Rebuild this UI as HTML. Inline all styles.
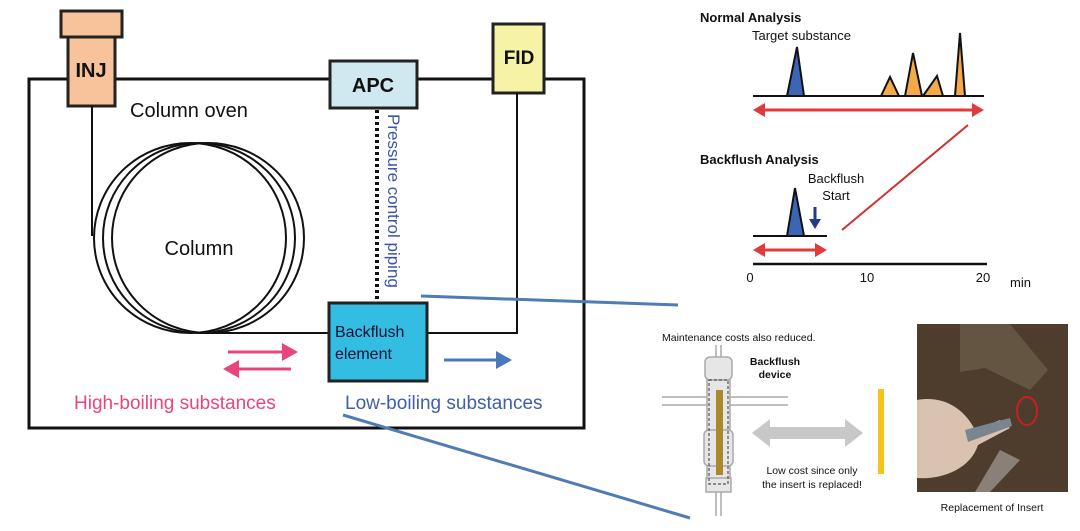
<!DOCTYPE html>
<html><head><meta charset="utf-8"><style>
html,body{margin:0;padding:0;background:#fff;}
svg{display:block;}
text{font-family:"Liberation Sans",Arial,sans-serif;}
</style></head><body>
<svg width="1080" height="531" viewBox="0 0 1080 531" xmlns="http://www.w3.org/2000/svg">
<!-- oven -->
<rect x="29" y="79" width="555" height="349" fill="none" stroke="#111" stroke-width="3"/>
<!-- INJ -->
<rect x="61" y="11" width="61" height="26" fill="#f8c29a" stroke="#222" stroke-width="3"/>
<rect x="68" y="37" width="47" height="69" fill="#f8c29a" stroke="#222" stroke-width="3"/>
<text x="91" y="77" font-size="20" font-weight="bold" text-anchor="middle" fill="#111">INJ</text>
<!-- APC -->
<rect x="330" y="61" width="87" height="47" fill="#d0e9f0" stroke="#222" stroke-width="3"/>
<text x="373" y="92" font-size="20" font-weight="bold" text-anchor="middle" fill="#111">APC</text>
<!-- FID -->
<rect x="493" y="24" width="51" height="69" fill="#f7f3a6" stroke="#222" stroke-width="3"/>
<text x="519" y="64" font-size="19" font-weight="bold" text-anchor="middle" fill="#111">FID</text>
<text x="130" y="117" font-size="20" fill="#111">Column oven</text>
<!-- column lines -->
<line x1="92" y1="106" x2="92" y2="236" stroke="#111" stroke-width="2"/>
<g fill="none" stroke="#111" stroke-width="2">
<ellipse cx="190" cy="238" rx="96" ry="95"/>
<ellipse cx="199" cy="238" rx="96" ry="95"/>
<ellipse cx="208" cy="238" rx="96" ry="95"/>
</g>
<text x="199" y="255" font-size="20" text-anchor="middle" fill="#111">Column</text>
<line x1="199" y1="333" x2="330" y2="333" stroke="#111" stroke-width="2"/>
<polyline points="427,333 517,333 517,93" fill="none" stroke="#111" stroke-width="2"/>
<line x1="377" y1="110" x2="377" y2="303" stroke="#111" stroke-width="4" stroke-dasharray="3,3"/>
<text transform="translate(388,114) rotate(90)" font-size="17" fill="#3a56a4">Pressure control piping</text>
<!-- backflush -->
<rect x="329" y="303" width="98" height="78" fill="#33bde2" stroke="#222" stroke-width="3"/>
<text x="335" y="337" font-size="16" fill="#113">Backflush</text>
<text x="335" y="359" font-size="16" fill="#113">element</text>
<!-- arrows -->
<line x1="228" y1="352" x2="285" y2="352" stroke="#e8457f" stroke-width="3"/>
<path d="M282,343 L298,352 L282,361z" fill="#e8457f"/>
<line x1="236" y1="369" x2="291" y2="369" stroke="#e8457f" stroke-width="3"/>
<path d="M239,360 L223,369 L239,378z" fill="#e8457f"/>
<line x1="444" y1="360" x2="498" y2="360" stroke="#4a78b8" stroke-width="3"/>
<path d="M496,351 L512,360 L496,369z" fill="#4a78b8"/>
<text x="74" y="409" font-size="19" fill="#e8457f">High-boiling substances</text>
<text x="345" y="409" font-size="19" fill="#3f5fa8">Low-boiling substances</text>
<!-- connectors -->
<line x1="421" y1="296" x2="678" y2="305" stroke="#4f7cb4" stroke-width="3"/>
<line x1="343" y1="415" x2="690" y2="518" stroke="#4f7cb4" stroke-width="3"/>
<!-- chromatograms -->
<text x="700" y="22" font-size="13" font-weight="bold" fill="#111">Normal Analysis</text>
<text x="752" y="40" font-size="13" fill="#111">Target substance</text>
<path d="M787,96 L797,47 L804,96z" fill="#3a66b4" stroke="#111" stroke-width="2"/>
<path d="M881,96 L890,77 L899,96z" fill="#f3aa48" stroke="#111" stroke-width="2"/>
<path d="M905,96 L913,53 L922,96z" fill="#f3aa48" stroke="#111" stroke-width="2"/>
<path d="M923,96 L937,76 L943,96z" fill="#f3aa48" stroke="#111" stroke-width="2"/>
<path d="M955,96 L960,33 L965,96z" fill="#f3aa48" stroke="#111" stroke-width="2"/>
<line x1="753" y1="96" x2="984" y2="96" stroke="#111" stroke-width="2"/>
<line x1="760" y1="110" x2="977" y2="110" stroke="#e03a3a" stroke-width="3"/>
<path d="M765,103 L753,110 L765,117z M972,103 L984,110 L972,117z" fill="#e03a3a"/>
<line x1="968" y1="125" x2="842" y2="230" stroke="#d03030" stroke-width="2"/>
<text x="700" y="164" font-size="13" font-weight="bold" fill="#111">Backflush Analysis</text>
<text x="836" y="183" font-size="13" text-anchor="middle" fill="#111">Backflush</text>
<text x="836" y="200" font-size="13" text-anchor="middle" fill="#111">Start</text>
<path d="M787,236 L795,188 L804,236z" fill="#3a66b4" stroke="#111" stroke-width="2"/>
<line x1="753" y1="236" x2="827" y2="236" stroke="#111" stroke-width="2"/>
<line x1="815" y1="207" x2="815" y2="222" stroke="#223a8a" stroke-width="3"/>
<path d="M809,219 L815,229 L821,219z" fill="#223a8a"/>
<line x1="760" y1="250" x2="820" y2="250" stroke="#e03a3a" stroke-width="3"/>
<path d="M765,243 L753,250 L765,257z M815,243 L827,250 L815,257z" fill="#e03a3a"/>
<line x1="753" y1="264" x2="987" y2="264" stroke="#111" stroke-width="2.5"/>
<text x="750" y="282" font-size="13" text-anchor="middle" fill="#111">0</text>
<text x="867" y="282" font-size="13" text-anchor="middle" fill="#111">10</text>
<text x="983" y="282" font-size="13" text-anchor="middle" fill="#111">20</text>
<text x="1010" y="287" font-size="13" font-family="Liberation Mono,monospace" fill="#111">min</text>
<!-- device -->
<text x="662" y="341" font-size="10.5" fill="#111">Maintenance costs also reduced.</text>
<g stroke="#aaa" stroke-width="1.5" fill="#e6e6e6">
<line x1="716" y1="345" x2="716" y2="516"/><line x1="721" y1="345" x2="721" y2="516"/>
<line x1="662" y1="397" x2="788" y2="397"/><line x1="662" y1="405" x2="788" y2="405"/>
<rect x="705" y="357" width="27" height="23" rx="5"/>
<rect x="707" y="380" width="23" height="100"/>
<rect x="704" y="430" width="29" height="36" rx="5"/>
<rect x="706" y="478" width="25" height="14"/>
</g>
<rect x="709" y="380" width="19" height="104" fill="none" stroke="#555" stroke-width="1.2" stroke-dasharray="3,2"/>
<rect x="716" y="390" width="7" height="85" fill="#a88a2a"/>
<text x="775" y="365" font-size="10.5" font-weight="bold" text-anchor="middle" fill="#111">Backflush</text>
<text x="775" y="378" font-size="10.5" font-weight="bold" text-anchor="middle" fill="#111">device</text>
<path d="M752,433 L770,419 L770,427 L845,427 L845,419 L863,433 L845,447 L845,439 L770,439 L770,447z" fill="#c8c8c8"/>
<rect x="878" y="389" width="6" height="85" fill="#f3c41a"/>
<text x="812" y="474" font-size="10.5" text-anchor="middle" fill="#111">Low cost since only</text>
<text x="812" y="488" font-size="10.5" text-anchor="middle" fill="#111">the insert is replaced!</text>
<!-- photo -->
<rect x="917" y="324" width="151" height="168" fill="#4e3d2c"/>
<path d="M960,324 L1010,324 L1048,370 L1030,390 L985,368 L960,372z" fill="#6a5a48" opacity="0.8"/>
<path d="M917,400 C945,395 965,410 975,430 L1000,420 L1010,428 L978,445 C970,470 940,480 917,478z" fill="#d9c2b0"/>
<path d="M965,430 L1010,418 L1012,426 L968,442z" fill="#7a8590"/>
<ellipse cx="1027" cy="411" rx="10" ry="14" fill="none" stroke="#c82020" stroke-width="2"/>
<path d="M1000,450 L1020,460 L990,492 L975,492z" fill="#8a8078"/>
<text x="992" y="511" font-size="10.5" text-anchor="middle" fill="#111">Replacement of Insert</text>
</svg>
</body></html>
